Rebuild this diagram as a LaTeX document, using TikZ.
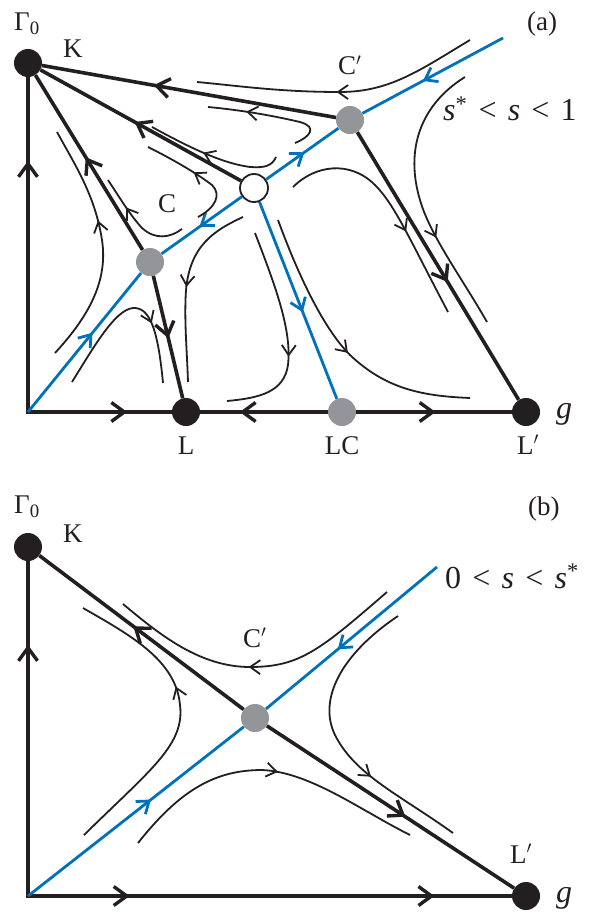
\documentclass[tikz,border=0pt]{standalone}
\usepackage{fontspec}
\setmainfont{Liberation Serif}
\usetikzlibrary{arrows.meta,decorations.markings}
\definecolor{ink}{HTML}{231F20}
\definecolor{myblue}{HTML}{0072BC}
\definecolor{mygray}{HTML}{939598}
\tikzset{
  thk/.style={line width=3.6pt, draw=ink},
  thn/.style={line width=1.8pt, draw=ink},
  blu/.style={line width=2.8pt, draw=myblue},
  ak/.style={postaction={decorate,decoration={markings,mark=at position #1 with {\arrow[ink]{Straight Barb[length=13pt,width=19pt,line width=3.4pt]}}}}},
  an/.style={postaction={decorate,decoration={markings,mark=at position #1 with {\arrow[ink]{Straight Barb[length=10pt,width=14pt,line width=1.8pt]}}}}},
  ab/.style={postaction={decorate,decoration={markings,mark=at position #1 with {\arrow[myblue]{Straight Barb[length=11pt,width=16pt,line width=2.8pt]}}}}},
  bdot/.style={circle, fill=ink, minimum size=28pt, inner sep=0pt},
  gdot/.style={circle, fill=mygray, minimum size=28pt, inner sep=0pt},
  odot/.style={circle, draw=ink, fill=white, line width=1.8pt, minimum size=28pt, inner sep=0pt},
  lab/.style={anchor=base west, inner sep=0pt, font=\fontsize{27}{30}\selectfont, text=ink},
  labc/.style={anchor=base, inner sep=0pt, font=\fontsize{27}{30}\selectfont, text=ink},
  mlab/.style={anchor=base west, inner sep=0pt, font=\fontsize{32}{36}\selectfont, text=ink},
}
\begin{document}
\begin{tikzpicture}[x=1pt,y=-1pt]
\path[use as bounding box, fill=white] (0,0) rectangle (610,915);
% ---------------- panel (a) ----------------
\coordinate (Oa) at (28,412);
\coordinate (Ea) at (503,38);
\node[bdot] (Ka) at (28,63) {};
\node[bdot] (La) at (186,412) {};
\node[gdot] (LCa) at (342,412) {};
\node[bdot] (Lpa) at (526,412) {};
\node[gdot] (Ca) at (150,262) {};
\node[gdot] (Cpa) at (350,120) {};
\node[odot] (Opa) at (254,188) {};
% axes
\draw[thk, line cap=rect, ak=0.75] (Oa) -- (Ka);
\draw[thk, line cap=rect, ak=0.69] (Oa) -- (La);
\draw[thk, ak=0.69] (LCa) -- (La);
\draw[thk, ak=0.51] (LCa) -- (Lpa);
% separatrices
\draw[thk, ak=0.62] (Cpa) -- (Ka);
\draw[thk, ak=0.53] (Opa) -- (Ka);
\draw[thk, ak=0.53] (Ca) -- (Ka);
\draw[thk, ak=0.51] (Ca) -- (La);
\draw[thk, ak=0.56] (Cpa) -- (Lpa);
% blue lines
\draw[blu, ab=0.57] (Oa) -- (Ca);
\draw[blu, ab=0.53] (Opa) -- (Ca);
\draw[blu, ab=0.53] (Opa) -- (Cpa);
\draw[blu, ab=0.57] (Ea) -- (Cpa);
\draw[blu, ab=0.56] (Opa) -- (LCa);
% flow lines
\draw[thn, an=0.51] (470,40) .. controls (420,70) and (390,92) .. (340,92) .. controls (280,92) and (240,86) .. (197,82);
\draw[thn, an=0.7] (295,143) .. controls (310,137) and (318,127) .. (300,122) .. controls (270,115) and (240,110) .. (208,107);
\draw[thn, an=0.58] (276,157) .. controls (272,166) and (265,168) .. (250,167) .. controls (220,163) and (185,145) .. (152,127);
\draw[thn, an=0.55] (198,217) .. controls (215,208) and (222,195) .. (212,185) .. controls (195,172) and (170,158) .. (148,147);
\draw[thn, an=0.68] (182,229) .. controls (170,238) and (155,240) .. (142,228) .. controls (130,215) and (120,198) .. (108,180);
\draw[thn, an=0.6] (55,353) .. controls (90,315) and (108,280) .. (102,240) .. controls (95,195) and (75,165) .. (57,132);
\draw[thn, an=0.67] (72,382) .. controls (95,345) and (115,310) .. (133,308) .. controls (150,307) and (158,330) .. (163,383);
\draw[thn, an=0.5] (243,217) .. controls (215,230) and (190,245) .. (186,290) .. controls (184,320) and (187,350) .. (188,382);
\draw[thn, an=0.6] (255,233) .. controls (275,285) and (292,330) .. (288,365) .. controls (284,392) and (260,398) .. (227,401);
\draw[thn, an=0.53] (278,220) .. controls (300,280) and (325,330) .. (350,355) .. controls (385,388) and (420,396) .. (470,398);
\draw[thn, an=0.62] (293,187) .. controls (315,165) and (350,160) .. (375,185) .. controls (395,205) and (410,240) .. (448,312);
\draw[thn, an=0.65] (465,77) .. controls (420,105) and (405,150) .. (420,200) .. controls (430,235) and (460,275) .. (487,322);
% labels
\node[lab] (tGa) at (14,31) {Γ\textsubscript{0}};
\node[lab] (tKa) at (63,58) {K};
\node[lab] (tCa) at (158,212) {C};
\node[lab] (tCpa) at (338,75) {C$'$};
\node[lab] (tpa) at (527,31) {(a)};
\node[mlab] (tsa) at (443,121) {\textit{s}\textsuperscript{*}\hspace{.35em}<\hspace{.35em}\textit{s}\hspace{.35em}<\hspace{.35em}1};
\node[mlab] (tga) at (556,418) {\textit{g}};
\node[labc] (tLa) at (186,454) {L};
\node[labc] (tLCa) at (342,454) {LC};
\node[labc] (tLpa) at (528,454) {L$'$};
% ---------------- panel (b) ----------------
\coordinate (Ob) at (28,896);
\coordinate (Eb) at (437,567);
\node[bdot] (Kb) at (28,547) {};
\node[bdot] (Lpb) at (526,896) {};
\node[gdot] (Cpb) at (255,718) {};
\draw[thk, line cap=rect, ak=0.75] (Ob) -- (Kb);
\draw[thk, line cap=rect, ak=0.21, ak=0.84] (Ob) -- (Lpb);
\draw[thk, ak=0.54] (Cpb) -- (Kb);
\draw[thk, ak=0.56] (Cpb) -- (Lpb);
\draw[blu, ab=0.57] (Ob) -- (Cpb);
\draw[blu, ab=0.58] (Eb) -- (Cpb);
\draw[thn, an=0.53] (387,592) .. controls (320,650) and (300,667) .. (250,667) .. controls (200,667) and (160,635) .. (123,604);
\draw[thn, an=0.67] (398,616) .. controls (340,655) and (318,700) .. (335,735) .. controls (355,775) and (400,795) .. (453,833);
\draw[thn, an=0.6] (84,835) .. controls (150,770) and (185,745) .. (180,705) .. controls (176,660) and (130,635) .. (83,608);
\draw[thn, an=0.53] (138,843) .. controls (180,790) and (215,770) .. (262,770) .. controls (310,772) and (360,810) .. (410,835);
\node[lab] (tGb) at (14,513) {Γ\textsubscript{0}};
\node[lab] (tKb) at (63,542) {K};
\node[lab] (tCpb) at (243,647) {C$'$};
\node[lab] (tpb) at (528,515) {(b)};
\node[mlab] (tsb) at (445,588) {0\hspace{.35em}<\hspace{.35em}\textit{s}\hspace{.35em}<\hspace{.35em}\textit{s}\textsuperscript{*}};
\node[lab] (tLpb) at (510,863) {L$'$};
\node[mlab] (tgb) at (556,902) {\textit{g}};
\end{tikzpicture}
\end{document}
